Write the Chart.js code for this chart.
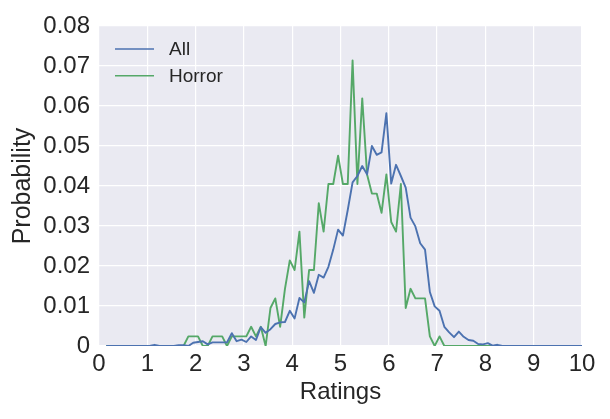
<!DOCTYPE html>
<html>
<head>
<meta charset="utf-8">
<script src="https://cdn.jsdelivr.net/npm/chart.js@4/dist/chart.umd.min.js"></script>
<style>
  body { margin: 0; background: #fff; }
  #wrap { width: 610px; height: 419px; position: relative; }
</style>
</head>
<body>
<div id="wrap"><canvas id="ratingsChart"></canvas></div>
<script>
// bin centres of the rating histogram
const ratings = [
    0.15, 0.25, 0.35, 0.45, 0.55, 0.65, 0.75, 0.85, 0.95, 1.05,
    1.15, 1.25, 1.35, 1.45, 1.55, 1.65, 1.75, 1.85, 1.95, 2.05,
    2.15, 2.25, 2.35, 2.45, 2.55, 2.65, 2.75, 2.85, 2.95, 3.05,
    3.15, 3.25, 3.35, 3.45, 3.55, 3.65, 3.75, 3.85, 3.95, 4.05,
    4.15, 4.25, 4.35, 4.45, 4.55, 4.65, 4.75, 4.85, 4.95, 5.05,
    5.15, 5.25, 5.35, 5.45, 5.55, 5.65, 5.75, 5.85, 5.95, 6.05,
    6.15, 6.25, 6.35, 6.45, 6.55, 6.65, 6.75, 6.85, 6.95, 7.05,
    7.15, 7.25, 7.35, 7.45, 7.55, 7.65, 7.75, 7.85, 7.95, 8.05,
    8.15, 8.25, 8.35, 8.45, 8.55, 8.65, 8.75, 8.85, 8.95, 9.05,
    9.15, 9.25, 9.35, 9.45, 9.55, 9.65, 9.75, 9.85, 9.95, 10.05
];

const allProb = [
    0, 0, 0, 0, 0, 0, 0, 0, 0, 0,
    0.0003, 0, 0, 0, 0, 0.0002, 0.0002, 0, 0.0008, 0.0010,
    0.0012, 0.0004, 0.0009, 0.0009, 0.0009, 0.0009, 0.0032, 0.0012, 0.0016, 0.0010,
    0.0024, 0.0015, 0.0047, 0.0033, 0.0042, 0.0055, 0.0059, 0.0060, 0.0088, 0.0069,
    0.0120, 0.0109, 0.0162, 0.0133, 0.0178, 0.0171, 0.0198, 0.0241, 0.0291, 0.0276,
    0.0340, 0.0409, 0.0425, 0.0450, 0.0429, 0.0500, 0.0478, 0.0484, 0.0582, 0.0406,
    0.0453, 0.0425, 0.0396, 0.0321, 0.0299, 0.0257, 0.0241, 0.0135, 0.0099, 0.0088,
    0.0048, 0.0034, 0.0022, 0.0036, 0.0023, 0.0015, 0.0013, 0.0005, 0.0004, 0.0007,
    0.0001, 0.0003, 0, 0, 0, 0, 0, 0, 0, 0,
    0, 0, 0, 0, 0, 0, 0, 0, 0, 0
];

const horrorProb = [
    0, 0, 0, 0, 0, 0, 0, 0, 0, 0,
    0, 0, 0, 0, 0, 0, 0, 0.0024, 0.0024, 0.0024,
    0, 0, 0.0024, 0.0024, 0.0024, 0, 0.0024, 0.0024, 0.0024, 0.0024,
    0.0048, 0.0024, 0.0048, 0, 0.0095, 0.0119, 0.0048, 0.0143, 0.0214, 0.0190,
    0.0286, 0.0071, 0.0190, 0.0190, 0.0357, 0.0286, 0.0405, 0.0405, 0.0476, 0.0405,
    0.0405, 0.0714, 0.0405, 0.0619, 0.0429, 0.0381, 0.0381, 0.0333, 0.0429, 0.0310,
    0.0286, 0.0405, 0.0095, 0.0143, 0.0119, 0.0119, 0.0119, 0.0024, 0, 0.0024,
    0, 0, 0, 0, 0, 0, 0, 0, 0, 0,
    0, 0, 0, 0, 0, 0, 0, 0, 0, 0,
    0, 0, 0, 0, 0, 0, 0, 0, 0, 0
];

const seriesNames = ['All', 'Horror'];
const seriesColors = ['#4c72b0', '#55a868'];

const FONT = '"Liberation Sans", Arial, sans-serif';
const TEXT_COLOR = '#262626';

function toPoints(values) {
    return values.map((v, i) => ({ x: ratings[i], y: v }));
}

// grey axes background, seaborn darkgrid style
const plotBackground = {
    id: 'plotBackground',
    beforeDraw(chart) {
        const { ctx, chartArea: a } = chart;
        ctx.save();
        ctx.fillStyle = '#eaeaf2';
        ctx.fillRect(a.left, a.top, a.right - a.left, a.bottom - a.top);
        ctx.restore();
    }
};

// legend drawn inside the axes, top left
const innerLegend = {
    id: 'innerLegend',
    afterDatasetsDraw(chart) {
        const ctx = chart.ctx;
        const a = chart.chartArea;
        ctx.save();
        ctx.font = '19px ' + FONT;
        ctx.textBaseline = 'middle';
        chart.data.datasets.forEach((ds, i) => {
            const y = a.top + 23 + i * 26.7;
            ctx.strokeStyle = ds.borderColor;
            ctx.lineWidth = 1.6;
            ctx.beginPath();
            ctx.moveTo(a.left + 16, y);
            ctx.lineTo(a.left + 55, y);
            ctx.stroke();
            ctx.fillStyle = TEXT_COLOR;
            ctx.fillText(ds.label, a.left + 70, y + 1);
        });
        ctx.restore();
    }
};

const datasets = [allProb, horrorProb].map((vals, i) => ({
    label: seriesNames[i],
    data: toPoints(vals),
    borderColor: seriesColors[i],
    backgroundColor: seriesColors[i],
    borderWidth: 1.9,
    borderJoinStyle: 'round',
    pointRadius: 0,
    tension: 0,
    clip: 0
}));

new Chart(document.getElementById('ratingsChart'), {
    type: 'line',
    data: { datasets: datasets },
    plugins: [plotBackground, innerLegend],
    options: {
        responsive: true,
        maintainAspectRatio: false,
        animation: false,
        devicePixelRatio: 1,
        layout: { padding: { top: 26, right: 28, left: 0, bottom: 0 } },
        plugins: {
            legend: { display: false },
            tooltip: { enabled: false }
        },
        scales: {
            x: {
                type: 'linear',
                min: 0,
                max: 10,
                afterFit: (scale) => { scale.height = 73; },
                border: { display: false },
                grid: { color: '#ffffff', lineWidth: 1.2, drawTicks: false },
                ticks: {
                    stepSize: 1,
                    padding: 4,
                    color: TEXT_COLOR,
                    font: { family: FONT, size: 24 },
                    maxRotation: 0,
                    callback: (v) => String(v)
                },
                title: {
                    display: true,
                    text: 'Ratings',
                    color: TEXT_COLOR,
                    font: { family: FONT, size: 24 },
                    padding: { top: 0, bottom: 12 }
                }
            },
            y: {
                min: 0,
                max: 0.08,
                afterFit: (scale) => { scale.width = 99; },
                border: { display: false },
                grid: { color: '#ffffff', lineWidth: 1.2, drawTicks: false },
                ticks: {
                    stepSize: 0.01,
                    padding: 9,
                    color: TEXT_COLOR,
                    font: { family: FONT, size: 24 },
                    callback: (v) => v === 0 ? '0' : v.toFixed(2)
                },
                title: {
                    display: true,
                    text: 'Probability',
                    color: TEXT_COLOR,
                    font: { family: FONT, size: 25 },
                    padding: { top: 8, bottom: 0 }
                }
            }
        }
    }
});
</script>
</body>
</html>
